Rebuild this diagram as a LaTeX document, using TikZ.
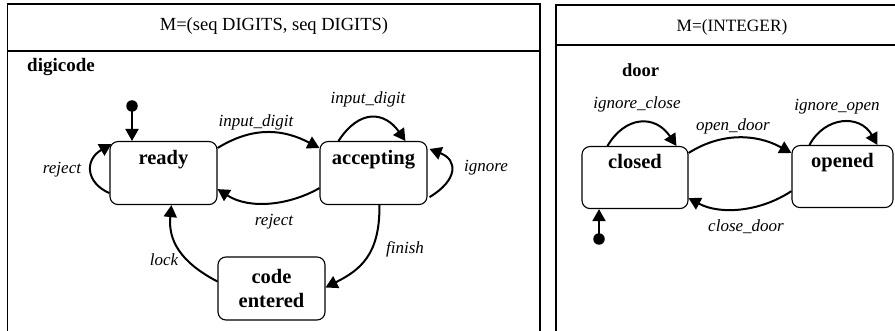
\documentclass[tikz,border=0pt]{standalone}
\usepackage{fontspec}
\setmainfont{Liberation Serif}
\usetikzlibrary{arrows.meta,calc}
\begin{document}
\begin{tikzpicture}[x=1pt,y=-1pt,
  state/.style={draw,line width=1.1pt,rounded corners=8pt,inner sep=0pt,
    font=\fontsize{20.5}{24}\selectfont\bfseries,align=center},
  top/.style={text height=23pt,text depth=40pt},
  arr/.style={line width=2pt,-{Triangle[length=12pt,width=13pt]}},
  lbl/.style={font=\fontsize{17}{20}\selectfont\itshape,inner sep=0pt,text height=12pt,text depth=4pt},
  ttl/.style={font=\fontsize{18.5}{22}\selectfont,inner sep=0pt,anchor=base},
  nm/.style={font=\fontsize{19}{22}\selectfont\bfseries,inner sep=0pt,anchor=base west},
  dot/.style={circle,fill,inner sep=0pt,minimum size=11.5pt},
  frame/.style={line width=1.2pt},
  divider/.style={line width=2pt}]
\useasboundingbox (0,0) rectangle (895,331);
% panels
\draw[frame] (7.5,333) -- (7.5,4) -- (540,4) -- (540,333);
\draw[divider] (7.5,51) -- (540,51);
\draw[frame] (556,333) -- (556,5) -- (898,5);
\draw[divider] (556,45) -- (898,45);
\node[ttl] (t1) at (274,30.5) {M=(seq DIGITS, seq DIGITS)};
\node[ttl,font=\fontsize{17.3}{20}\selectfont] (t2) at (732,31.5) {M=(INTEGER)};
\node[nm] (n1) at (27,72) {digicode};
\node[nm,font=\fontsize{18.5}{22}\selectfont\bfseries] (n2) at (622,77) {door};
% states
\node[state,top,minimum width=107pt] (ready) at (163.5,141) [anchor=north] {ready};
\node[state,top,minimum width=107pt] (acc) at (373.5,141) [anchor=north] {accepting};
\node[state,minimum width=107pt,minimum height=63pt] (code) at (271.5,288.5) {code\\entered};
\node[state,text height=22pt,text depth=40pt,minimum width=106pt] (closed) at (635,146) [anchor=north] {closed};
\node[state,text height=22pt,text depth=40pt,minimum width=101pt] (opened) at (842.5,145) [anchor=north] {opened};
% initial dots
\node[dot] (i1) at (132,106) {};
\node[dot] (i2) at (599,239) {};
\draw[arr] (i1.center) -- (i1 |- ready.north);
\draw[arr] (i2.center) -- (i2 |- closed.south);
% digicode transitions
\draw[arr] ($(ready.south west)+(0,-12)$) .. controls (86,183) and (84,160) .. ($(ready.north west)+(2,3)$);
\draw[arr] ($(ready.north east)+(0,7)$) .. controls (255,125) and (285,130) .. ($(acc.north west)+(0,7)$);
\draw[arr] ($(acc.north west)+(19,0)$) .. controls (360,108) and (385,112) .. ($(acc.north west)+(86,0)$);
\draw[arr] ($(acc.south east)+(2,-8)$) .. controls (458,180) and (458,160) .. ($(acc.north east)+(2,8)$);
\draw[arr] ($(acc.south west)+(0,-17)$) .. controls (290,205) and (250,210) .. ($(ready.south east)+(0,-16)$);
\draw[arr] ($(acc.south west)+(60,0)$) .. controls (380,255) and (360,270) .. ($(code.east)+(0,-1)$);
\draw[arr] ($(code.west)+(0,-7)$) .. controls (180,262) and (168,240) .. ($(ready.south west)+(62,0)$);
% door transitions
\draw[arr] ($(closed.north west)+(26,0)$) .. controls (625,116) and (655,114) .. ($(closed.north west)+(95,0)$);
\draw[arr] ($(closed.north east)+(0,7)$) .. controls (720,133) and (755,133) .. ($(opened.north west)+(0,8)$);
\draw[arr] ($(opened.south west)+(0,-17)$) .. controls (760,212) and (720,215) .. ($(closed.south east)+(0,-11)$);
\draw[arr] ($(opened.north west)+(18,0)$) .. controls (825,116) and (860,114) .. ($(opened.north west)+(86,0)$);
% labels
\node[lbl] (l1) at (62,170) {reject};
\node[lbl] (l2) at (256,123) {input\_digit};
\node[lbl] (l3) at (368,100) {input\_digit};
\node[lbl] (l4) at (486,168) {ignore};
\node[lbl] (l5) at (274,222) {reject};
\node[lbl] (l6) at (405,250) {finish};
\node[lbl] (l7) at (164,262) {lock};
\node[lbl] (l8) at (637,105) {ignore\_close};
\node[lbl] (l9) at (733,127) {open\_door};
\node[lbl] (l10) at (746,228) {close\_door};
\node[lbl] (l11) at (837,107) {ignore\_open};
\end{tikzpicture}
\end{document}
